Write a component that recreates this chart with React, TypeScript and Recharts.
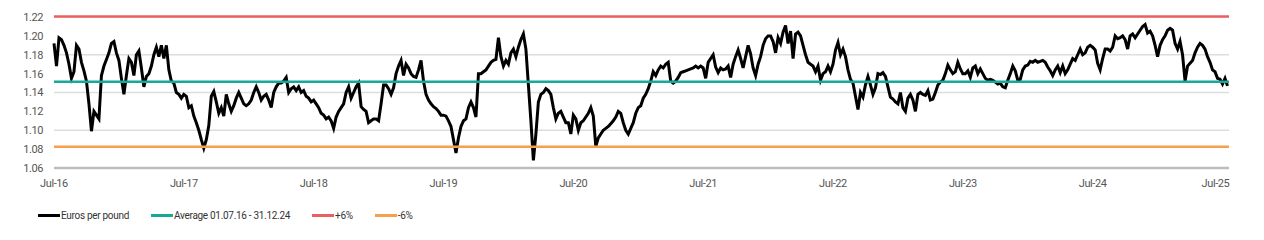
import React from 'react';
import { LineChart, Line, XAxis, YAxis, CartesianGrid, ReferenceLine } from 'recharts';

// Weekly EUR per GBP, each array runs July -> June
const FX_2016_17 = [
  1.192, 1.168, 1.198, 1.196, 1.19, 1.182, 1.17, 1.155, 1.162, 1.19,
  1.186, 1.172, 1.163, 1.152, 1.128, 1.099, 1.12, 1.116, 1.112, 1.158,
  1.168, 1.175, 1.182, 1.192, 1.194, 1.182, 1.174, 1.155, 1.138, 1.158,
  1.176, 1.172, 1.158, 1.18, 1.184, 1.166, 1.146, 1.157, 1.16, 1.168,
  1.18, 1.188, 1.178, 1.19, 1.176, 1.19, 1.164, 1.152, 1.15, 1.14,
  1.138, 1.134,
];
const FX_2017_18 = [
  1.138, 1.136, 1.124, 1.126, 1.115, 1.108, 1.1, 1.09, 1.081, 1.09,
  1.105, 1.136, 1.141, 1.13, 1.118, 1.124, 1.115, 1.138, 1.128, 1.12,
  1.126, 1.134, 1.14, 1.134, 1.128, 1.126, 1.128, 1.132, 1.14, 1.146,
  1.14, 1.132, 1.136, 1.138, 1.132, 1.124, 1.14, 1.146, 1.15, 1.15,
  1.152, 1.156, 1.14, 1.144, 1.146, 1.142, 1.146, 1.14, 1.142, 1.136,
  1.134, 1.13,
];
const FX_2018_19 = [
  1.132, 1.128, 1.124, 1.118, 1.116, 1.112, 1.114, 1.11, 1.102, 1.114,
  1.12, 1.124, 1.128, 1.14, 1.146, 1.134, 1.14, 1.146, 1.15, 1.125,
  1.122, 1.12, 1.108, 1.11, 1.112, 1.112, 1.11, 1.128, 1.148, 1.148,
  1.144, 1.138, 1.145, 1.16, 1.168, 1.174, 1.158, 1.17, 1.166, 1.16,
  1.157, 1.156, 1.164, 1.174, 1.152, 1.138, 1.132, 1.128, 1.125, 1.123,
  1.12, 1.116,
];
const FX_2019_20 = [
  1.116, 1.115, 1.11, 1.104, 1.09, 1.076, 1.092, 1.104, 1.11, 1.112,
  1.124, 1.13, 1.124, 1.114, 1.16, 1.16, 1.162, 1.164, 1.168, 1.172,
  1.174, 1.175, 1.198, 1.178, 1.168, 1.174, 1.17, 1.182, 1.186, 1.178,
  1.188, 1.196, 1.202, 1.186, 1.148, 1.11, 1.068, 1.096, 1.13, 1.138,
  1.14, 1.144, 1.142, 1.138, 1.124, 1.112, 1.118, 1.12, 1.114, 1.108,
  1.108, 1.096,
];
const FX_2020_21 = [
  1.116, 1.112, 1.1, 1.108, 1.11, 1.114, 1.118, 1.124, 1.115, 1.083,
  1.092, 1.096, 1.1, 1.102, 1.104, 1.107, 1.11, 1.114, 1.12, 1.118,
  1.108, 1.1, 1.096, 1.102, 1.108, 1.118, 1.124, 1.126, 1.134, 1.138,
  1.144, 1.152, 1.162, 1.158, 1.164, 1.168, 1.166, 1.17, 1.172, 1.152,
  1.15, 1.152, 1.156, 1.161, 1.162, 1.163, 1.164, 1.165, 1.166, 1.168,
  1.166, 1.168,
];
const FX_2021_22 = [
  1.166, 1.155, 1.172, 1.176, 1.18, 1.167, 1.161, 1.166, 1.164, 1.165,
  1.168, 1.156, 1.17, 1.178, 1.185, 1.176, 1.166, 1.178, 1.19, 1.181,
  1.166, 1.158, 1.17, 1.178, 1.19, 1.197, 1.2, 1.2, 1.194, 1.182,
  1.198, 1.192, 1.204, 1.211, 1.192, 1.205, 1.176, 1.202, 1.204, 1.2,
  1.19, 1.18, 1.172, 1.17, 1.168, 1.162, 1.168, 1.153, 1.16, 1.162,
  1.168, 1.162,
];
const FX_2022_23 = [
  1.17, 1.185, 1.193, 1.18, 1.186, 1.178, 1.164, 1.154, 1.15, 1.136,
  1.122, 1.14, 1.135, 1.148, 1.157, 1.148, 1.138, 1.145, 1.16, 1.159,
  1.161, 1.157, 1.146, 1.135, 1.133, 1.13, 1.128, 1.14, 1.124, 1.12,
  1.134, 1.138, 1.132, 1.12, 1.138, 1.14, 1.138, 1.137, 1.142, 1.132,
  1.133, 1.14, 1.148, 1.151, 1.153, 1.16, 1.169, 1.164, 1.16, 1.162,
  1.172, 1.165,
];
const FX_2023_24 = [
  1.16, 1.16, 1.163, 1.156, 1.166, 1.168, 1.16, 1.165, 1.16, 1.155,
  1.153, 1.154, 1.153, 1.151, 1.149, 1.15, 1.146, 1.145, 1.153, 1.16,
  1.168, 1.163, 1.153, 1.154, 1.164, 1.168, 1.169, 1.173, 1.172, 1.174,
  1.172, 1.173, 1.174, 1.172, 1.167, 1.163, 1.158, 1.164, 1.168, 1.161,
  1.168, 1.16, 1.164, 1.17, 1.176, 1.174, 1.18, 1.186, 1.18, 1.182,
  1.188, 1.19,
];
const FX_2024_25 = [
  1.188, 1.185, 1.171, 1.164, 1.176, 1.186, 1.186, 1.184, 1.188, 1.2,
  1.197, 1.198, 1.2, 1.196, 1.186, 1.2, 1.202, 1.198, 1.202, 1.206,
  1.21, 1.212, 1.203, 1.205, 1.2, 1.19, 1.178, 1.19, 1.196, 1.2,
  1.206, 1.208, 1.206, 1.192, 1.186, 1.194, 1.18, 1.152, 1.168, 1.171,
  1.174, 1.182, 1.188, 1.192, 1.19, 1.186, 1.178, 1.172, 1.164, 1.162,
  1.155, 1.154,
];
const FX_2025 = [1.149, 1.155, 1.147];

const YEAR_SERIES = [
  FX_2016_17, FX_2017_18, FX_2018_19, FX_2019_20, FX_2020_21,
  FX_2021_22, FX_2022_23, FX_2023_24, FX_2024_25, FX_2025,
];
const START = 2016.5; // 1 July 2016 as decimal year
const WEEKS = 52;

const X_TICKS = [2016.5, 2017.5, 2018.5, 2019.5, 2020.5, 2021.5, 2022.5, 2023.5, 2024.5, 2025.5];
const X_LABELS = ['Jul-16', 'Jul-17', 'Jul-18', 'Jul-19', 'Jul-20', 'Jul-21', 'Jul-22', 'Jul-23', 'Jul-24', 'Jul-25'];
const Y_TICKS = [1.06, 1.08, 1.1, 1.12, 1.14, 1.16, 1.18, 1.2, 1.22];

const AVERAGE = 1.1515; // 01.07.16 - 31.12.24
const BAND = 0.06;

const COLORS = {
  fx: '#000000',
  avg: '#17A899',
  up: '#EC5F5F',
  down: '#F5A04C',
  grid: '#DDDDDD',
  axis: '#BDBDBD',
  text: '#555555',
};

const FONT = 'Roboto, "Noto Sans", sans-serif';

const chartData = YEAR_SERIES.flatMap((values, k) =>
  values.map((fx, w) => ({ t: START + k + w / WEEKS, fx }))
);

const LEGEND = [
  { label: 'Euros per pound', color: COLORS.fx },
  { label: 'Average 01.07.16 - 31.12.24', color: COLORS.avg },
  { label: '+6%', color: COLORS.up },
  { label: '-6%', color: COLORS.down },
];

function XTick(props: any) {
  const { x, y, payload, index } = props;
  const label = X_LABELS[X_TICKS.indexOf(payload.value)] ?? '';
  // last label pulled in so it stays inside the frame
  const shift = index === X_TICKS.length - 1 ? -7 : 0;
  return (
    <text
      x={x + shift}
      y={y}
      dy="0.71em"
      textAnchor="middle"
      fill={COLORS.text}
      fontSize={11}
      fontFamily={FONT}
      letterSpacing={-0.4}
    >
      {label}
    </text>
  );
}

export default function App() {
  return (
    <div style={{ position: 'absolute', left: 0, top: 0, width: 1264, height: 240, background: '#fff' }}>
      <LineChart
        width={1264}
        height={240}
        data={chartData}
        margin={{ top: 17, right: 35, left: 0, bottom: 52 }}
      >
        <CartesianGrid vertical={false} stroke={COLORS.grid} strokeWidth={1.5} />
        <XAxis
          dataKey="t"
          type="number"
          domain={[2016.5, 2025.55]}
          ticks={X_TICKS}
          height={20}
          tickLine={false}
          tickMargin={5}
          axisLine={{ stroke: COLORS.axis, strokeWidth: 2.5 }}
          tick={<XTick />}
        />
        <YAxis
          domain={[1.06, 1.22]}
          ticks={Y_TICKS}
          width={54}
          axisLine={false}
          tickLine={false}
          tickMargin={5}
          tickFormatter={(v) => v.toFixed(2)}
          tick={{ fontSize: 11, fill: COLORS.text, fontFamily: FONT, letterSpacing: -0.4 }}
        />
        <Line
          type="linear"
          dataKey="fx"
          stroke={COLORS.fx}
          strokeWidth={3}
          dot={false}
          isAnimationActive={false}
        />
        <ReferenceLine y={AVERAGE} stroke={COLORS.avg} strokeWidth={2.5} ifOverflow="visible" />
        <ReferenceLine y={AVERAGE * (1 + BAND)} stroke={COLORS.up} strokeWidth={2.5} ifOverflow="visible" />
        <ReferenceLine y={AVERAGE * (1 - BAND)} stroke={COLORS.down} strokeWidth={2.5} ifOverflow="visible" />
      </LineChart>
      <div
        style={{
          position: 'absolute',
          left: 38,
          top: 210,
          display: 'flex',
          alignItems: 'center',
          gap: 22,
          fontFamily: FONT,
          fontSize: 10,
          letterSpacing: -0.3,
          color: '#333',
        }}
      >
        {LEGEND.map((item) => (
          <div key={item.label} style={{ display: 'flex', alignItems: 'center' }}>
            <span style={{ display: 'inline-block', width: 22, height: 3, background: item.color, marginRight: 1 }} />
            <span>{item.label}</span>
          </div>
        ))}
      </div>
    </div>
  );
}
